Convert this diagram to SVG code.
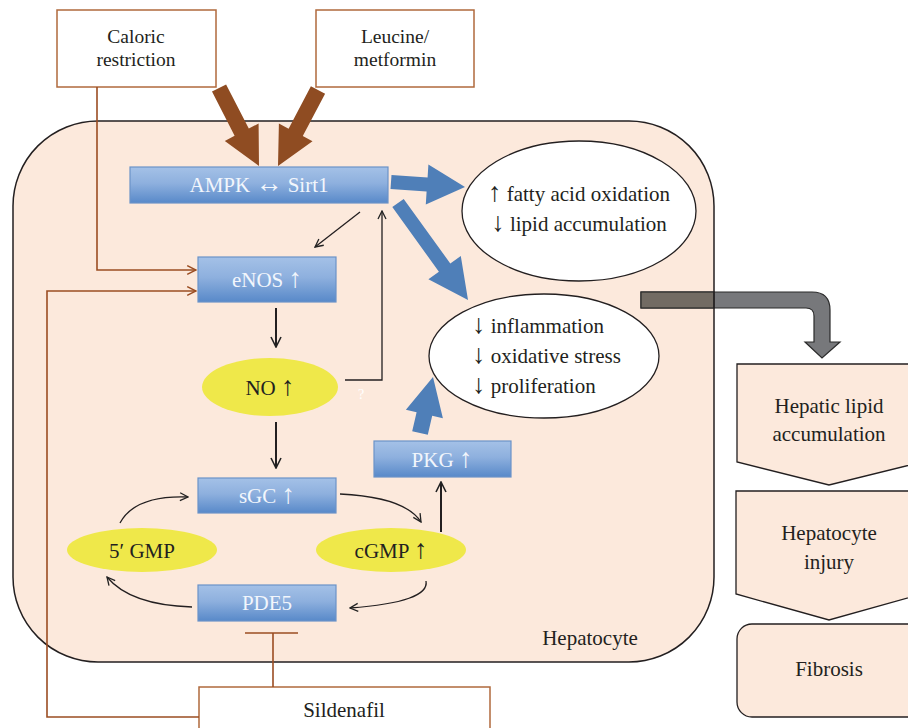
<svg xmlns="http://www.w3.org/2000/svg" width="908" height="728" viewBox="0 0 908 728">
<defs>
<linearGradient id="blueg" x1="0" y1="0" x2="0" y2="1">
<stop offset="0" stop-color="#a4c1e7"/>
<stop offset="0.45" stop-color="#8eb0de"/>
<stop offset="1" stop-color="#5889c9"/>
</linearGradient>
<marker id="chev" viewBox="0 0 10 10" refX="9" refY="5" markerWidth="10" markerHeight="10" markerUnits="userSpaceOnUse" orient="auto">
<path d="M1,1 L9,5 L1,9" fill="none" stroke="#222" stroke-width="1.3"/>
</marker>
<marker id="chevb" viewBox="0 0 10 10" refX="9" refY="5" markerWidth="11" markerHeight="11" markerUnits="userSpaceOnUse" orient="auto">
<path d="M1,1 L9,5 L1,9" fill="none" stroke="#9b4d22" stroke-width="1.3"/>
</marker>
<marker id="chev2" viewBox="0 0 12 12" refX="11" refY="6" markerWidth="12" markerHeight="12" markerUnits="userSpaceOnUse" orient="auto">
<path d="M1,1 L11,6 L1,11" fill="none" stroke="#222" stroke-width="1.6"/>
</marker>
</defs>
<style>
text{font-family:"Liberation Serif","Times New Roman",serif;font-size:21px;fill:#231f20;text-anchor:middle}
.ar{font-size:27px}
.sm{font-size:19.5px}
.wt{fill:#f2f6fc}
.blue{fill:url(#blueg);stroke:#6b93c8;stroke-width:1.2}
.yel{fill:#efe84a}
.ell{fill:#fff;stroke:#231f20;stroke-width:1.3}
.box{fill:#fff;stroke:#b0693c;stroke-width:1.5}
.peach{fill:#fce9dc;stroke:#231f20;stroke-width:1.3}
.thin{fill:none;stroke:#231f20;stroke-width:1.3}
.bl{fill:none;stroke:#9b4d22;stroke-width:1.6}
.barr{fill:#4f7fb8}
.brarr{fill:#8f4c22}
</style>

<g id="hepatocyte">
<rect x="13" y="121" width="701" height="541" rx="85" ry="85" fill="#fce9dc"/>
</g>

<g id="gray-arrow">
<path d="M641,292 H812 Q830,292 830,310 V342 H840 L822,358 L805,342 H814 V316 Q814,308 806,308 H641 Z" fill="#77787b" stroke="#2a2a2a" stroke-width="1.2"/>
<rect x="641" y="292" width="73" height="16" fill="#726b63" stroke="#2a2a2a" stroke-width="1.2"/>
</g>

<g id="hepatocyte-outline">
<rect x="13" y="121" width="701" height="541" rx="85" ry="85" fill="none" stroke="#231f20" stroke-width="1.5"/>
<text x="590" y="645">Hepatocyte</text>
</g>

<g id="caloric">
<rect class="box" x="57" y="10" width="159" height="77"/>
<text class="sm" x="136" y="43">Caloric</text>
<text class="sm" x="136" y="66">restriction</text>
</g>
<g id="leucine">
<rect class="box" x="316" y="10" width="158" height="77"/>
<text class="sm" x="395" y="43">Leucine/</text>
<text class="sm" x="395" y="66">metformin</text>
</g>
<g id="sildenafil">
<rect class="box" x="199" y="687" width="291" height="60"/>
<text x="344" y="717">Sildenafil</text>
</g>

<g id="connectors">
<polygon class="brarr" points="212,91.6 234.6,135.8 224.8,140.9 259,166 258.6,123.5 248.8,128.6 226.1,84.4"/>
<polygon class="brarr" points="325.1,93.7 302.8,136.1 312.5,141.3 278,166 278.9,123.5 288.6,128.7 310.9,86.3"/>
<path class="bl" d="M97,87 V270 H196" marker-end="url(#chevb)"/>
<path class="bl" d="M199,717 H47 V291 H196" marker-end="url(#chevb)"/>
<path class="bl" d="M273,687 V633 M245,633 H298"/>
<polygon class="barr" points="391.5,175 427.6,177.5 428.4,164.6 465,187 425.8,204.4 426.6,191.5 390.5,189"/>
<polygon class="barr" points="392.3,207.1 403.7,198.9 450.3,263.5 460.8,255.9 468,300 428.4,279.3 438.9,271.7"/>
<polygon class="barr" points="412.2,431.2 416.6,412.2 405.9,409.7 433,377 442.9,418.3 432.2,415.8 427.8,434.8"/>
<path class="thin" d="M360,212 L315,247" marker-end="url(#chev)"/>
<path class="thin" d="M345,380 H382 V211" marker-end="url(#chev)"/>
<path fill="none" stroke="#231f20" stroke-width="2" d="M276,308 V347" marker-end="url(#chev2)"/>
<path fill="none" stroke="#231f20" stroke-width="2" d="M276,422 V468" marker-end="url(#chev2)"/>
<path fill="none" stroke="#231f20" stroke-width="2" d="M441,532 V482" marker-end="url(#chev2)"/>
<path class="thin" d="M120,523 Q135,495 188,497" marker-end="url(#chev)"/>
<path class="thin" d="M340,494 Q405,497 421,522" marker-end="url(#chev)"/>
<path class="thin" d="M426,581 Q430,602 350,608" marker-end="url(#chev)"/>
<path class="thin" d="M192,607 Q130,605 107,577" marker-end="url(#chev)"/>
<text x="361" y="399" style="fill:#fff;font-size:14px">?</text>
</g>

<g id="ampk">
<rect class="blue" x="130" y="167" width="258" height="36"/>
<text class="wt" x="259" y="192">AMPK <tspan class="ar">↔</tspan> Sirt1</text>
</g>
<g id="enos">
<rect class="blue" x="198" y="257" width="138" height="45"/>
<text class="wt" x="267" y="287">eNOS <tspan class="ar">↑</tspan></text>
</g>
<g id="no">
<ellipse class="yel" cx="270" cy="387" rx="68" ry="29"/>
<text x="270" y="395">NO <tspan class="ar">↑</tspan></text>
</g>
<g id="sgc">
<rect class="blue" x="198" y="478" width="138" height="35"/>
<text class="wt" x="267" y="503">sGC <tspan class="ar">↑</tspan></text>
</g>
<g id="pde5">
<rect class="blue" x="198" y="585" width="138" height="36"/>
<text class="wt" x="267" y="610">PDE5</text>
</g>
<g id="gmp5">
<ellipse class="yel" cx="142" cy="550" rx="75" ry="22"/>
<text x="142" y="558">5′ GMP</text>
</g>
<g id="cgmp">
<ellipse class="yel" cx="391" cy="550" rx="75" ry="22"/>
<text x="391" y="558">cGMP <tspan class="ar">↑</tspan></text>
</g>
<g id="pkg">
<rect class="blue" x="374" y="441" width="137" height="36"/>
<text class="wt" x="442" y="467">PKG <tspan class="ar">↑</tspan></text>
</g>
<g id="effects1">
<ellipse class="ell" cx="579" cy="211" rx="117" ry="70"/>
<text x="579" y="201"><tspan class="ar">↑</tspan> fatty acid oxidation</text>
<text x="579" y="231"><tspan class="ar">↓</tspan> lipid accumulation</text>
</g>
<g id="effects2">
<ellipse class="ell" cx="544" cy="356" rx="115" ry="62"/>
<text x="472" y="333" style="text-anchor:start"><tspan class="ar">↓</tspan> inflammation</text>
<text x="472" y="363" style="text-anchor:start"><tspan class="ar">↓</tspan> oxidative stress</text>
<text x="472" y="393" style="text-anchor:start"><tspan class="ar">↓</tspan> proliferation</text>
</g>

<g id="hepatic-lipid">
<path class="peach" d="M737,364 H922 V462 L829,485 L737,462 Z"/>
<text x="829" y="413">Hepatic lipid</text>
<text x="829" y="441">accumulation</text>
</g>
<g id="injury">
<path class="peach" d="M736,491 H922 V594 L829,620 L736,594 Z"/>
<text x="829" y="540">Hepatocyte</text>
<text x="829" y="569">injury</text>
</g>
<g id="fibrosis">
<rect class="peach" x="737" y="624" width="190" height="93" rx="15"/>
<text x="829" y="676">Fibrosis</text>
</g>
</svg>
